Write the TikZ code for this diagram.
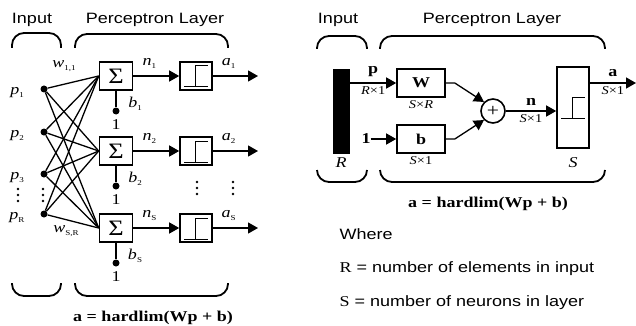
\documentclass[tikz,border=0pt]{standalone}
\usepackage{fontspec}
\setmainfont{Liberation Serif}[FakeStretch=1.2]
\setsansfont{Liberation Sans}[FakeStretch=1.2]
\usetikzlibrary{arrows.meta,calc,positioning}

\newcommand{\vlab}[2]{\textit{#1}\raisebox{-2.5pt}{\fontsize{7.5}{7.5}\selectfont#2}}
\newcommand{\steplim}[1]{%
  \draw[line width=1pt] ($(#1)+(-12,11)$) -- ($(#1)+(12,11)$)
    ($(#1)+(-1,11)$) -- ($(#1)+(-1,-10)$) -- ($(#1)+(12,-10)$);}
\newcommand{\dotcol}[2]{%
  \foreach \k in {-6,0,6} \fill (#1,#2+\k) circle (1.3pt);}

\begin{document}
\begin{tikzpicture}[x=1pt,y=-1pt,
  head/.style={font=\sffamily\fontsize{15}{15}\selectfont},
  note/.style={font=\sffamily\fontsize{15}{15}\selectfont,anchor=west},
  var/.style={font=\fontsize{15}{15}\selectfont,inner sep=0pt},
  dim/.style={font=\fontsize{12}{12}\selectfont,inner sep=0pt},
  eqn/.style={font=\fontsize{15}{15}\selectfont\bfseries},
  brace/.style={line width=1.8pt,rounded corners=12pt},
  line/.style={line width=1.3pt},
  arr/.style={-{Triangle[length=10pt,width=11pt]},line width=1.3pt},
  dot/.style={circle,fill,inner sep=0pt,minimum size=7pt},
  sumbox/.style={draw,line width=1.6pt,minimum width=33pt,minimum height=28pt,inner sep=0pt,font=\fontsize{22}{22}\selectfont},
  limbox/.style={draw,line width=1.6pt,minimum width=32pt,minimum height=28pt,inner sep=0pt},
  limbig/.style={draw,line width=1.6pt,minimum width=32pt,minimum height=81pt,inner sep=0pt},
  wbox/.style={draw,line width=1.6pt,minimum width=48pt,minimum height=28pt,inner sep=0pt,font=\fontsize{15}{15}\selectfont}
]
\useasboundingbox (0,0) rectangle (636,326);

% left: neuron by neuron
\node[head] (inL) at (32,20) {Input};
\node[head] (plL) at (155,20) {Perceptron Layer};
\draw[brace] (12,48) -- (12,33) -- (61,33) -- (61,48);
\draw[brace] (75,48) -- (75,34) -- (228,34) -- (228,48);
\draw[brace] (12,283) -- (12,296) -- (61,296) -- (61,283);
\draw[brace] (75,283) -- (75,296) -- (228,296) -- (228,283);

\foreach \n/\y/\s in {p1/89/1, p2/132/2, p3/174/3, pR/214/R} {
  \node[dot] (\n) at (44,\y) {};
  \node[var] (\n lab) at (17,\y+4) {\vlab{p}{\s}};
}
\dotcol{18}{195}
\dotcol{43}{195}

\foreach \r/\y/\s in {1/76/1, 2/151/2, S/228/S} {
  \node[sumbox] (s\r) at (116,\y) {Σ};
  \node[limbox] (h\r) at (196,\y) {};
  \steplim{h\r}
  \node[dot] (bd\r) at (116,\y+35) {};
  \node[var] (one\r) at (116,\y+49) {1};
  \node[var] (b\r) at (135,\y+28) {\vlab{b}{\s}};
  \draw[line] (s\r) -- (bd\r);
  \draw[arr] (s\r) -- node[var,pos=0.35,above=7pt] {\vlab{n}{\s}} (h\r);
  \coordinate (o\r) at (258,\y);
  \draw[arr] (h\r) -- node[var,pos=0.35,above=7pt] {\vlab{a}{\s}} (o\r);
}
\foreach \i in {p1,p2,p3,pR}
  \foreach \j in {s1,s2,sS}
    \draw[line] (\i) -- (\j.west);

\node[var] (w11) at (64,66) {\vlab{w}{1,1}};
\node[var] (wSR) at (66,231) {\vlab{w}{S,R}};
\dotcol{197}{188}
\dotcol{233}{188}
\node[eqn] (eqL) at (153,318) {a = hardlim(Wp + b)};

% right: matrix form
\node[head] (inR) at (338,20) {Input};
\node[head] (plR) at (492,20) {Perceptron Layer};
\draw[brace] (317,49) -- (317,36) -- (367,36) -- (367,49);
\draw[brace] (380,49) -- (380,36) -- (605,36) -- (605,49);
\draw[brace] (317,170) -- (317,182) -- (367,182) -- (367,170);
\draw[brace] (380,170) -- (380,182) -- (605,182) -- (605,170);

\node[fill=black,minimum width=17pt,minimum height=85pt,inner sep=0pt] (bar) at (341.5,111.5) {};
\node[var] (Rlab) at (341,163) {\textit{R}};
\node[wbox] (W) at (421,83) {\textbf{W}};
\node[dim] (Wdim) at (421,105) {\textit{S}×\textit{R}};
\node[wbox] (B) at (421,139) {\textbf{b}};
\node[dim] (Bdim) at (421,161) {\textit{S}×1};
\node[var,font=\fontsize{15}{15}\selectfont\bfseries] (one) at (366,139) {1};
\node[circle,draw,line width=1.6pt,minimum size=24pt,inner sep=0pt,font=\fontsize{18}{18}\selectfont] (sum) at (493,111) {+};
\node[limbig] (H) at (573,107.5) {};
\steplim{H}
\node[var] (Slab) at (573,163) {\textit{S}};

\draw[arr] (bar.east |- W) -- node[above=2pt,font=\fontsize{15}{15}\selectfont\bfseries] {p}
  node[dim,below=3pt] {\textit{R}×1} (W);
\draw[arr] (one) -- (B);
\draw[arr] (W.east) -- ++(9,0) -- (sum.135);
\draw[arr] (B.east) -- ++(9,0) -- (sum.225);
\draw[arr] (sum) -- node[above=2pt,font=\fontsize{15}{15}\selectfont\bfseries] {n}
  node[dim,below=3pt] {\textit{S}×1} (H.west |- sum);
\coordinate (aout) at (636,83);
\draw[arr] (H.east |- W) -- node[above=2pt,font=\fontsize{15}{15}\selectfont\bfseries] {a}
  node[dim,below=3pt] {\textit{S}×1} (aout);

\node[eqn] (eqR) at (488,204) {a = hardlim(Wp + b)};
\node[note] (where) at (336,234) {Where};
\node[note] (defR) at (336,269) {{\rmfamily R} = number of elements in input};
\node[note] (defS) at (336,303) {{\rmfamily S} = number of neurons in layer};
\end{tikzpicture}
\end{document}
